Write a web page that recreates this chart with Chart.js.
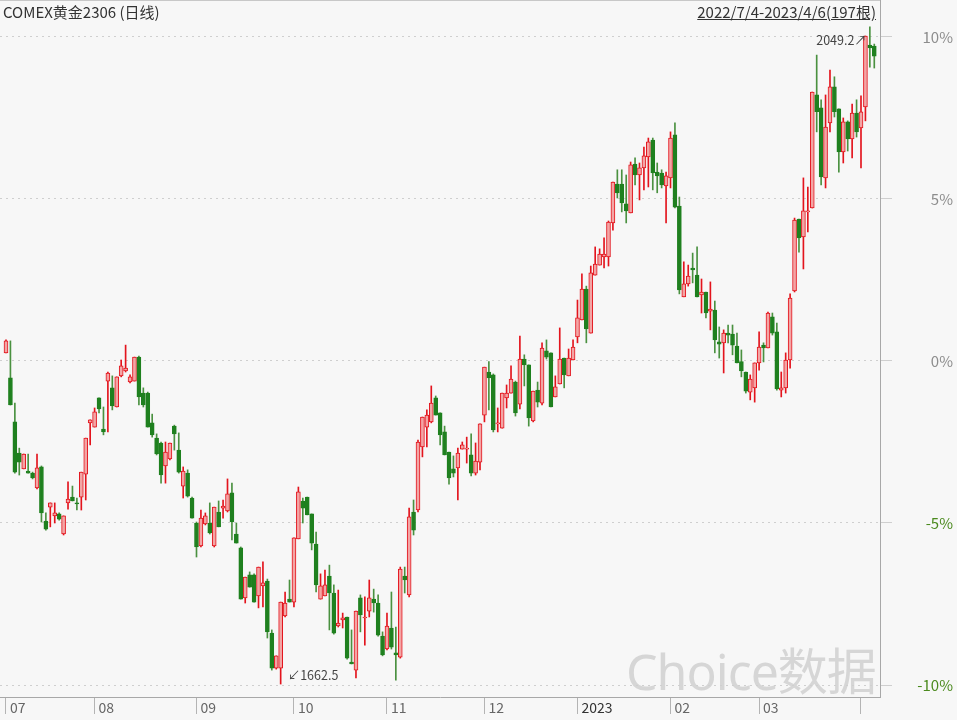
<!DOCTYPE html>
<html><head><meta charset="utf-8">
<script src="https://cdn.jsdelivr.net/npm/chart.js@4.4.0/dist/chart.umd.min.js"></script>
<style>
html,body{margin:0;padding:0;background:#f7f7f7;}
#wrap{position:relative;width:957px;height:720px;overflow:hidden;background:#f7f7f7;}
canvas{position:absolute;left:0;top:0;}
.hdr{position:absolute;top:2px;font:15px "Noto Sans CJK SC","Noto Sans",sans-serif;color:#333;white-space:nowrap;line-height:20px;}
#wm{position:absolute;left:626px;top:632px;font:50px "Noto Sans","Noto Sans CJK SC",sans-serif;color:#d6d6d6;white-space:nowrap;letter-spacing:-1px;}
</style></head>
<body><div id="wrap">
<div id="wm">Choice数据</div>
<canvas id="c" width="957" height="720"></canvas>
<div class="hdr" style="left:3px">COMEX黄金2306 (日线)</div>
<div class="hdr" style="right:81px;text-decoration:underline">2022/7/4-2023/4/6(197根)</div>
</div>
<script>
// ---- data (percent change) ----
const monthTickIndex = [0,20,43,65,86,108,129,150,170,193];
const monthTickLabels = ['07','08','09','10','11','12','2023','02','03',''];
const yTickValues = [-10,-5,0,5,10];
const maxPriceLabel = '2049.2';
const minPriceLabel = '1662.5';

const open = [
0.25,-0.52,-1.88,-2.84,-3.33,-3.40,-3.46,-3.92,-3.27,-4.94,
-4.51,-4.78,-4.72,-5.34,-4.38,-4.20,-4.38,-4.20,-3.49,-1.91,
-2.04,-1.14,-2.10,-0.62,-0.83,-1.42,-0.46,-0.31,-0.65,-0.62,
0.12,-0.99,-0.99,-1.91,-2.38,-2.53,-3.24,-3.02,-2.01,-2.75,
-3.86,-3.46,-4.23,-5.00,-5.71,-5.03,-5.00,-5.71,-4.66,-4.54,
-4.63,-4.07,-5.34,-5.77,-7.31,-6.60,-6.60,-7.25,-6.94,-6.79,
-8.40,-9.48,-9.48,-7.87,-7.35,-7.44,-5.49,-4.32,-4.20,-4.72,
-5.65,-7.35,-7.25,-6.64,-7.16,-8.18,-7.99,-7.90,-9.29,-9.54,
-7.31,-7.93,-7.72,-7.35,-7.47,-8.49,-8.89,-8.24,-9.01,-9.14,
-6.64,-7.22,-4.66,-4.60,-2.65,-2.04,-1.88,-1.14,-1.60,-2.19,
-2.81,-3.33,-3.30,-2.72,-2.72,-2.90,-3.46,-3.12,-1.67,-0.34,
-0.43,-1.94,-2.07,-1.14,-0.99,-0.65,-1.33,0.06,-0.12,-1.85,
-0.90,-1.30,0.31,0.25,-1.11,-0.71,0.09,-0.46,0.03,0.74,
1.27,2.22,0.86,2.65,2.96,3.21,3.21,4.26,5.46,5.46,
4.85,4.57,6.08,5.74,5.96,6.30,6.82,5.83,5.80,5.40,
5.65,6.98,4.78,1.98,2.38,2.87,2.65,2.04,2.13,1.54,
1.57,0.59,0.56,0.86,0.83,0.46,0.00,-0.34,-0.96,-0.83,
-0.06,0.49,0.40,1.36,0.90,-0.90,-0.83,0.03,2.16,4.38,
3.83,4.60,4.72,8.21,7.81,5.65,7.35,8.46,7.78,6.45,
7.38,6.85,7.65,7.19,7.84,9.75,9.72
];
const high = [
0.65,0.62,-1.30,-2.69,-2.87,-2.87,-3.43,-2.87,-3.24,-4.69,
-4.38,-4.38,-4.69,-4.78,-3.73,-3.86,-4.23,-3.43,-2.38,-1.82,
-1.45,-1.14,-1.42,-0.34,-0.46,-0.49,0.03,0.49,-0.43,0.12,
0.15,-0.83,-0.96,-1.64,-2.25,-2.50,-2.50,-2.53,-1.98,-2.22,
-3.27,-3.36,-4.20,-4.97,-4.60,-4.69,-4.38,-4.51,-4.32,-4.29,
-3.64,-3.77,-5.00,-5.74,-6.67,-6.51,-6.57,-6.36,-6.20,-6.73,
-8.30,-9.10,-7.44,-7.13,-6.76,-5.46,-3.89,-4.23,-4.20,-4.72,
-5.28,-6.57,-6.45,-6.30,-6.91,-7.07,-7.78,-7.90,-8.30,-7.72,
-7.22,-7.28,-6.76,-7.04,-7.22,-8.36,-7.78,-7.13,-8.21,-6.36,
-6.36,-4.54,-4.29,-2.44,-1.73,-1.51,-0.77,-1.08,-1.60,-2.01,
-2.81,-2.93,-2.69,-2.50,-2.35,-2.25,-2.53,-1.94,-0.19,0.00,
-0.40,-1.45,-0.99,-0.74,-0.15,-0.62,0.77,0.19,-0.12,-0.93,
-0.65,0.56,0.65,0.25,-0.46,1.02,0.09,0.37,0.65,1.88,
2.69,2.31,2.93,3.52,3.46,3.80,4.32,5.52,5.90,5.90,
5.74,6.14,6.27,6.11,6.60,6.88,6.88,6.11,5.90,5.83,
7.07,7.35,5.06,3.06,2.96,3.33,3.52,2.53,2.13,2.44,
1.85,1.05,0.96,1.11,1.11,0.86,0.34,-0.34,-0.43,-0.06,
0.90,0.56,1.51,1.48,1.17,-0.34,0.25,2.07,4.41,4.38,
5.65,5.37,8.30,9.44,8.06,8.21,8.98,8.77,7.78,7.50,
7.41,7.93,8.06,8.18,10.03,10.31,9.78
];
const low = [
0.25,-1.36,-3.46,-3.52,-3.33,-3.46,-3.64,-3.95,-4.97,-5.22,
-5.12,-5.00,-4.91,-5.37,-4.57,-4.32,-4.60,-4.60,-4.29,-2.59,
-2.04,-1.60,-2.28,-2.19,-1.51,-1.42,-0.49,-0.34,-0.68,-0.62,
-1.36,-1.42,-2.04,-2.35,-2.90,-3.77,-3.77,-3.05,-2.75,-3.46,
-4.23,-4.20,-4.85,-6.05,-5.74,-5.06,-5.34,-5.74,-5.12,-4.85,
-4.66,-5.52,-5.62,-7.35,-7.47,-6.98,-7.44,-7.62,-7.59,-8.55,
-9.54,-9.51,-9.97,-7.90,-7.44,-7.59,-5.49,-5.00,-4.75,-5.83,
-7.13,-7.35,-7.25,-8.30,-8.43,-8.21,-8.24,-9.20,-9.35,-9.78,
-8.36,-8.77,-7.90,-7.75,-8.49,-9.10,-8.92,-8.89,-9.85,-9.17,
-7.16,-7.28,-5.37,-4.66,-2.96,-2.65,-1.91,-1.67,-2.59,-2.90,
-3.80,-3.58,-4.29,-2.72,-3.15,-3.55,-3.52,-3.36,-1.88,-1.51,
-2.19,-2.19,-2.07,-1.45,-0.99,-1.70,-1.48,-0.77,-2.01,-1.88,
-1.42,-1.36,0.06,-1.42,-1.11,-0.71,-0.83,-0.46,0.03,0.56,
1.27,0.56,0.86,2.65,2.96,2.87,2.93,4.04,5.03,4.60,
4.26,4.57,5.43,4.97,5.28,5.37,5.28,5.19,5.34,4.26,
5.34,4.72,2.07,1.98,2.31,2.41,1.98,1.48,1.33,0.96,
0.25,0.09,-0.37,0.56,0.19,-0.06,-0.49,-0.99,-1.20,-1.27,
-0.28,-0.03,0.40,0.80,-0.90,-1.11,-0.99,-0.22,2.13,3.36,
2.84,3.98,4.72,7.07,5.43,5.34,7.07,7.53,5.83,6.11,
6.48,6.27,6.91,5.96,7.41,9.07,9.04
];
const close = [
0.62,-1.36,-3.43,-3.12,-2.87,-3.46,-3.61,-3.30,-4.69,-5.19,
-4.38,-4.69,-4.88,-4.78,-4.26,-4.32,-4.41,-3.43,-2.38,-1.82,
-1.57,-1.48,-2.19,-0.37,-1.39,-0.49,-0.15,-0.22,-0.49,0.12,
-1.11,-1.36,-2.04,-2.28,-2.87,-3.52,-2.81,-2.53,-2.25,-3.43,
-3.40,-4.17,-4.85,-5.74,-4.85,-4.78,-5.31,-4.51,-5.12,-4.48,
-4.10,-4.97,-5.62,-7.35,-6.67,-6.98,-7.44,-6.36,-6.85,-8.36,
-9.48,-9.10,-7.44,-7.47,-7.44,-5.46,-4.04,-4.54,-4.75,-5.62,
-6.91,-6.94,-6.91,-7.16,-8.40,-8.09,-7.93,-9.17,-9.35,-7.72,
-7.84,-7.90,-7.31,-7.47,-8.46,-9.07,-8.18,-8.83,-9.07,-6.42,
-6.76,-4.81,-5.22,-2.50,-1.73,-1.67,-1.30,-1.67,-2.28,-2.90,
-3.61,-3.46,-2.84,-2.59,-2.69,-3.46,-3.09,-1.94,-0.19,-0.52,
-2.13,-1.91,-0.99,-0.99,-0.56,-1.60,0.06,-0.12,-1.76,-0.93,
-1.27,0.40,0.12,-1.42,-0.80,0.06,-0.43,0.09,0.43,1.33,
2.22,0.99,2.72,2.99,3.30,3.30,4.29,5.52,5.19,4.88,
4.63,6.05,5.74,5.96,6.33,6.76,5.80,5.71,5.43,5.71,
6.88,4.75,2.19,2.38,2.62,2.81,1.98,2.13,1.48,1.60,
0.65,0.52,0.86,0.80,0.49,-0.06,-0.31,-0.93,-0.56,-0.06,
0.43,0.40,1.48,0.86,-0.86,-0.83,0.03,1.94,4.35,3.80,
4.63,4.63,8.30,7.69,5.68,7.22,8.46,7.69,6.45,7.38,
6.85,7.65,7.07,7.69,10.03,9.66,9.41
];

// ---- styling ----
const RED = '#e3141d', PINK = '#f3a5a5', GREEN = '#1f801f', GWICK = '#4a9140';
const FONT = '"Noto Sans CJK SC","Noto Sans",sans-serif';

const idx = open.map((_, i) => i);
const isUp = idx.map(i => close[i] >= open[i]);
const bodyData = idx.map(i => ({x: i, y: [Math.min(open[i], close[i]), Math.max(open[i], close[i])]}));
const wickData = idx.map(i => ({x: i, y: [low[i], high[i]]}));

const annot = {
  id: 'annot',
  afterDatasetsDraw(chart) {
    const {ctx, scales: {x, y}, chartArea} = chart;
    ctx.save();
    ctx.strokeStyle = '#c8c8c8'; ctx.lineWidth = 1;
    ctx.beginPath(); ctx.moveTo(chartArea.left, 0.5); ctx.lineTo(chartArea.right, 0.5); ctx.stroke();
    ctx.font = '12.5px ' + FONT; ctx.fillStyle = '#444'; ctx.textBaseline = 'middle';
    const lo = Math.min(...low), iMin = low.indexOf(lo);
    ctx.textAlign = 'left';
    ctx.fillText('\u2199' + minPriceLabel, x.getPixelForValue(iMin) + 7, y.getPixelForValue(lo) - 9);
    const hi = Math.max(...high), iMax = high.indexOf(hi);
    ctx.textAlign = 'right';
    ctx.fillText(maxPriceLabel + '\u2197', x.getPixelForValue(iMax) - 3, y.getPixelForValue(hi) + 13);
    ctx.restore();
  }
};

const noPad = s => { s.paddingTop = 0; s.paddingBottom = 0; s.paddingLeft = 0; s.paddingRight = 0; };

new Chart(document.getElementById('c'), {
  type: 'bar',
  data: {datasets: [
    {label: 'body', data: bodyData, grouped: false, barThickness: 4, minBarLength: 1,
     backgroundColor: idx.map(i => isUp[i] ? PINK : GREEN),
     borderColor: idx.map(i => isUp[i] ? RED : GREEN),
     borderWidth: 1, borderSkipped: false, order: 1},
    {label: 'wick', data: wickData, grouped: false, barThickness: 1, minBarLength: 1,
     backgroundColor: idx.map(i => isUp[i] ? RED : GWICK), borderWidth: 0, order: 2}
  ]},
  options: {
    responsive: false, animation: false, devicePixelRatio: 1,
    layout: {padding: {left: 0, top: 0, bottom: 0, right: 4}},
    plugins: {legend: {display: false}, tooltip: {enabled: false}},
    scales: {
      x: {
        type: 'linear', min: -1.354, max: 197.29, offset: false,
        afterBuildTicks: s => { s.ticks = monthTickIndex.map(v => ({value: v})); },
        afterFit: s => { s.height = 23; noPad(s); },
        ticks: {
          autoSkip: false, maxRotation: 0, minRotation: 0, align: 'start', labelOffset: 4, padding: -15,
          font: {size: 14, family: FONT},
          color: c => (monthTickLabels[monthTickIndex.indexOf(c.tick.value)] === '2023' ? '#333' : '#666'),
          callback: v => { const k = monthTickIndex.indexOf(v); return k < 0 ? '' : monthTickLabels[k]; }
        },
        grid: {offset: false, drawOnChartArea: false, drawTicks: true, tickLength: 17, tickColor: '#b4b4b4'},
        border: {display: true, color: '#a8a8a8'}
      },
      y: {
        position: 'right', min: -10.37, max: 11.14,
        afterBuildTicks: s => { s.ticks = yTickValues.map(v => ({value: v})); },
        afterFit: s => { s.width = 73; noPad(s); },
        ticks: {
          padding: 22, crossAlign: 'far', font: {size: 15, family: FONT},
          color: c => c.tick.value < 0 ? '#4b8a1e' : '#8c8c8c',
          callback: v => v + '%'
        },
        grid: {color: '#cfcfcf', drawTicks: true, tickLength: 12, tickColor: '#cfcfcf', tickBorderDash: []},
        border: {display: true, color: '#a8a8a8', dash: [2, 4]}
      }
    }
  },
  plugins: [annot]
});
</script>
</body></html>
